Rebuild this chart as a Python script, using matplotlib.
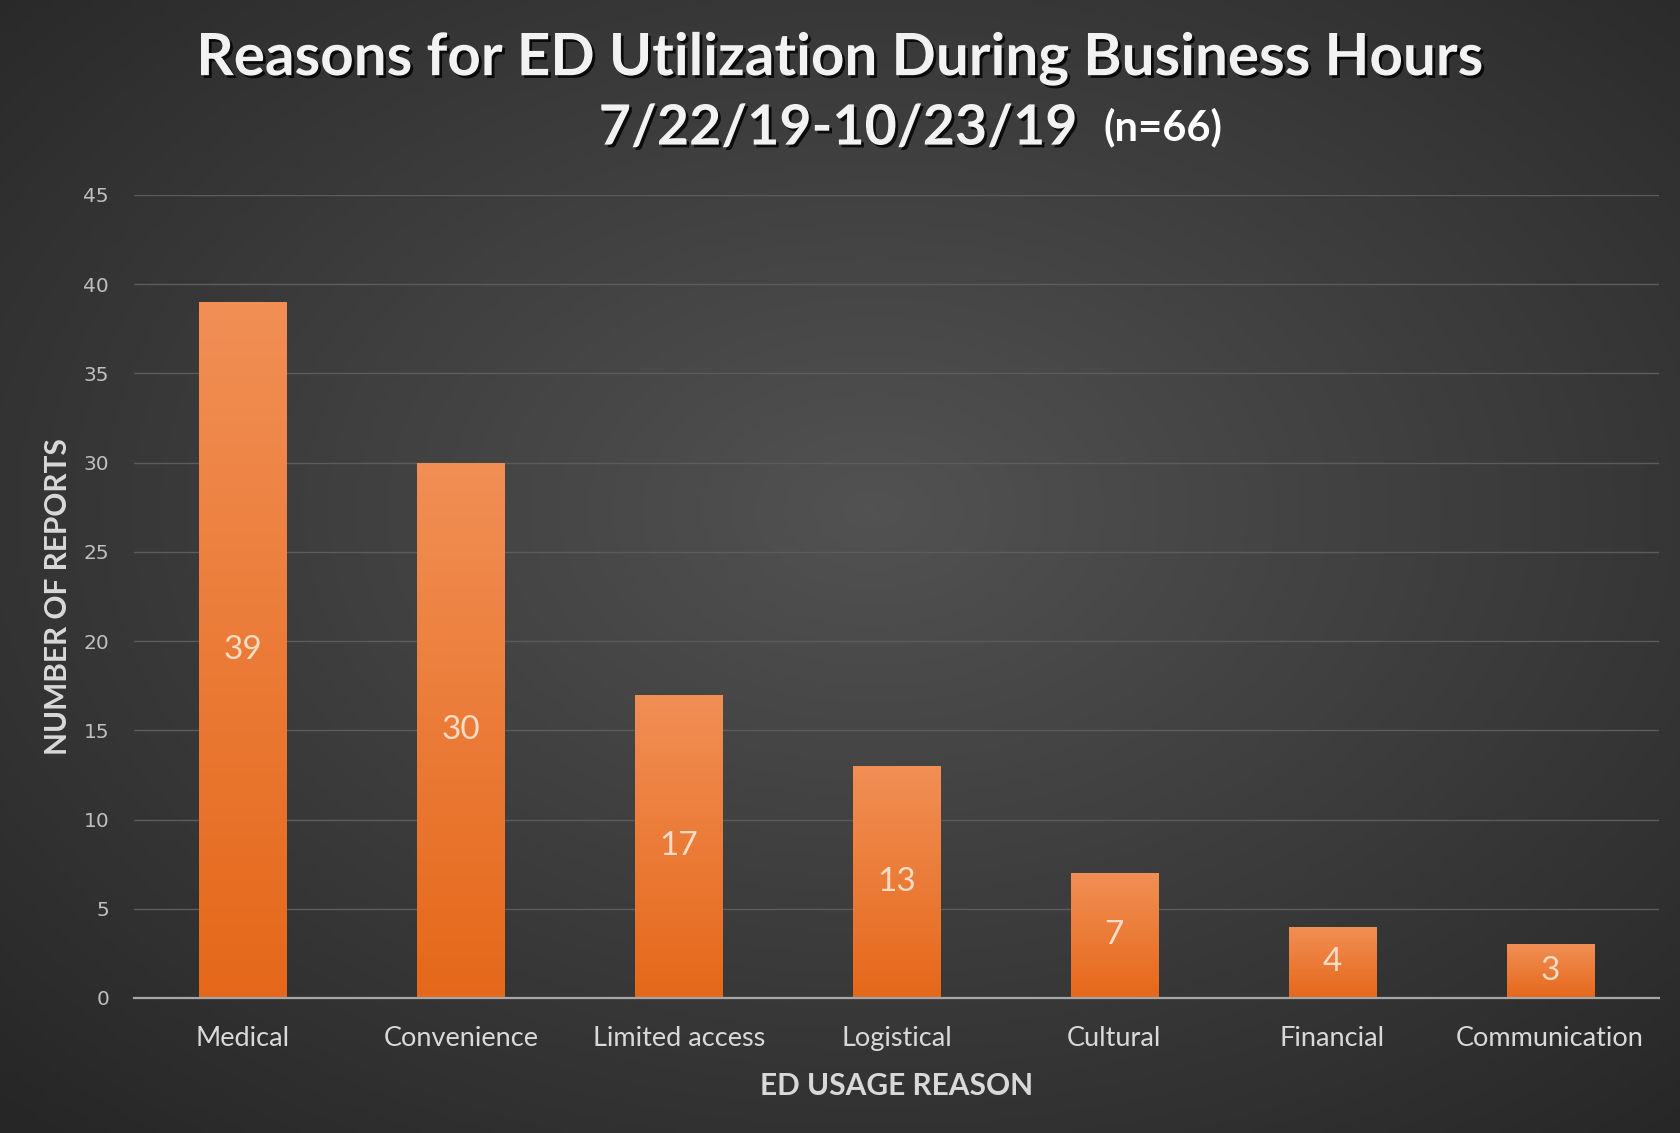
import numpy as np
import matplotlib
matplotlib.use('Agg')
import matplotlib.pyplot as plt
import matplotlib.patheffects as pe
from matplotlib.colors import LinearSegmentedColormap

# data
reasons = ['Medical', 'Convenience', 'Limited access', 'Logistical',
           'Cultural', 'Financial', 'Communication']
reports = [39, 30, 17, 13, 7, 4, 3]
y_ticks = [0, 5, 10, 15, 20, 25, 30, 35, 40, 45]

title_line1 = 'Reasons for ED Utilization During Business Hours'
title_dates = '7/22/19-10/23/19'
title_n = '(n=66)'

plt.rcParams['font.family'] = ['Lato', 'DejaVu Sans']

fig = plt.figure(figsize=(16.8, 11.33), dpi=100)

# radial background gradient
bg = fig.add_axes([0, 0, 1, 1], zorder=-10)
yy, xx = np.mgrid[0:1:300j, 0:1:450j]
r = np.sqrt(((xx - 0.52) / 0.75) ** 2 + ((yy - 0.45) / 0.75) ** 2)
r = np.clip(r, 0, 1)
bg_cmap = LinearSegmentedColormap.from_list('bg', ['#525252', '#3c3c3c', '#262626'])
bg.imshow(r, cmap=bg_cmap, aspect='auto', extent=(0, 1, 0, 1), vmin=0, vmax=1)
bg.axis('off')

ax = fig.add_axes([0.0798, 0.1192, 0.9077, 0.7087])
ax.set_facecolor('none')

x = np.arange(len(reasons))
bars = ax.bar(x, reports, width=0.40, color='#ec7a30', zorder=3)

# vertical gradient inside each bar
bar_cmap = LinearSegmentedColormap.from_list('bar', ['#e5681a', '#f18f55'])
grad = np.linspace(0, 1, 256).reshape(-1, 1)
for b in bars:
    x0, w, h = b.get_x(), b.get_width(), b.get_height()
    im = ax.imshow(grad, cmap=bar_cmap, aspect='auto', origin='lower',
                   extent=(x0, x0 + w, 0, h), zorder=4)
    im.set_clip_path(b)
    ax.text(x0 + w / 2, h / 2, str(int(h)), ha='center', va='center',
            fontsize=24, color='#fbdcc6', zorder=5)

ax.set_xlim(-0.5, len(reasons) - 0.5)
ax.set_ylim(0, 45)
ax.set_yticks(y_ticks)
ax.set_yticklabels([str(t) for t in y_ticks], family='DejaVu Sans',
                   fontsize=14.5, color='#bfbfbf')
ax.set_xticks(x)
ax.set_xticklabels(reasons, fontsize=19.5, color='#d9d9d9')
ax.tick_params(axis='both', length=0)
ax.tick_params(axis='x', pad=20)
ax.tick_params(axis='y', pad=18)

ax.grid(axis='y', color='#5c5c5c', linewidth=1.0, zorder=0)
ax.set_axisbelow(True)
for s in ['top', 'right', 'left']:
    ax.spines[s].set_visible(False)
ax.spines['bottom'].set_color('#a6a6a6')
ax.spines['bottom'].set_linewidth(1.6)
ax.spines['bottom'].set_zorder(6)

ax.set_ylabel('NUMBER OF REPORTS', fontsize=21.5, fontweight='bold',
              color='#d9d9d9', labelpad=8)
ax.set_xlabel('ED USAGE REASON', fontsize=21.5, fontweight='bold',
              color='#d9d9d9', labelpad=15)

shadow = [pe.SimplePatchShadow(offset=(2, -2), shadow_rgbFace='black', alpha=0.8),
          pe.Normal()]
fig.text(0.5, 0.948, title_line1, ha='center', va='center', fontsize=42,
         fontweight='bold', color='#f2f2f2', path_effects=shadow)
fig.text(0.641, 0.8865, title_dates, ha='right', va='center', fontsize=40,
         fontweight='bold', color='#f2f2f2', path_effects=shadow)
fig.text(0.657, 0.8875, title_n, ha='left', va='center', fontsize=30,
         fontweight='bold', color='white')

fig.savefig('out.png', dpi=100)
